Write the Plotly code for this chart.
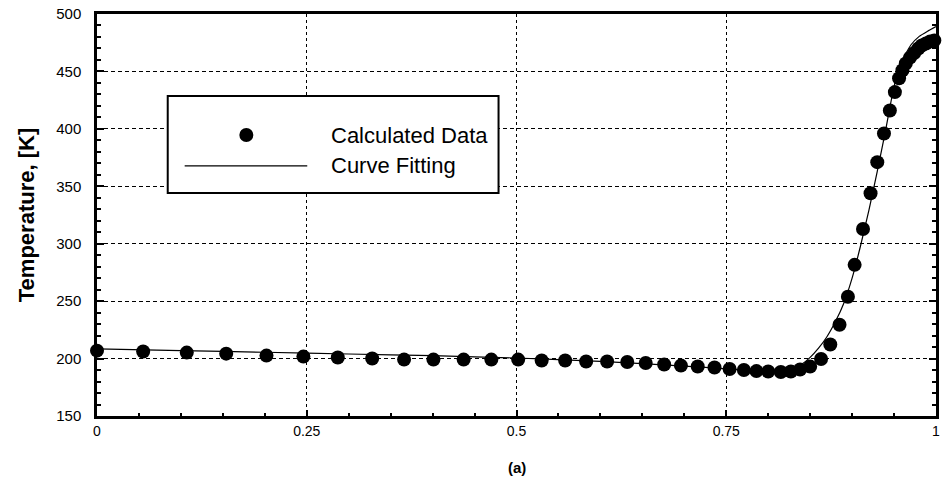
import plotly.graph_objects as go

# ---- data ----
calc_x = [0.000, 0.055, 0.107, 0.154, 0.202, 0.246, 0.287, 0.328, 0.366, 0.401,
          0.437, 0.470, 0.502, 0.530, 0.558, 0.583, 0.608, 0.632, 0.654, 0.676,
          0.696, 0.716, 0.736, 0.754, 0.771, 0.786, 0.800, 0.815, 0.827, 0.838,
          0.850, 0.863, 0.874, 0.885, 0.895, 0.903, 0.913, 0.922, 0.930, 0.938,
          0.945, 0.951, 0.956, 0.960, 0.964, 0.969, 0.974, 0.979, 0.983, 0.988,
          0.993, 0.998]
calc_T = [206.9, 206.1, 205.2, 204.3, 202.6, 201.7, 200.9, 200.0, 199.1, 199.1,
          199.1, 199.1, 199.1, 198.3, 198.3, 197.4, 197.4, 197.0, 196.1, 194.8,
          193.9, 193.1, 192.2, 190.9, 190.0, 189.1, 188.7, 188.3, 188.7, 190.5,
          193.0, 199.6, 212.2, 229.5, 253.8, 281.6, 312.8, 344.0, 371.0, 396.0,
          416.0, 432.0, 444.0, 451.0, 457.0, 462.0, 466.0, 470.0, 472.6, 474.3,
          476.0, 477.0]

fit_x = [0.0, 0.1, 0.2, 0.3, 0.4, 0.5, 0.6, 0.7, 0.75, 0.8, 0.82, 0.83, 0.84,
         0.85, 0.86, 0.87, 0.88, 0.89, 0.9, 0.91, 0.92, 0.93, 0.94, 0.95, 0.96,
         0.97, 0.98, 0.99, 1.0]
fit_T = [208.5, 207.0, 205.5, 204.0, 202.5, 200.5, 197.5, 193.5, 191.0, 189.5,
         190.0, 191.5, 195.0, 201.0, 209.0, 219.0, 232.0, 248.0, 270.0, 298.0,
         329.0, 363.0, 399.0, 437.0, 460.0, 473.0, 480.5, 485.0, 489.0]

x_tickvals = [0, 0.25, 0.5, 0.75, 1]
x_ticktext = ["0", "0.25", "0.5", "0.75", "1"]
y_tickvals = [150, 200, 250, 300, 350, 400, 450, 500]

legend_labels = ["Calculated Data", "Curve Fitting"]

FONT = "Liberation Sans, Arial, sans-serif"

fig = go.Figure()
fig.add_trace(go.Scatter(x=fit_x, y=fit_T, mode="lines",
                         line=dict(color="black", width=1.2, shape="spline", smoothing=0.4),
                         showlegend=False, cliponaxis=False))
fig.add_trace(go.Scatter(x=calc_x, y=calc_T, mode="markers",
                         marker=dict(color="black", size=14),
                         showlegend=False, cliponaxis=False))

fig.update_xaxes(range=[0, 1], tickvals=x_tickvals, ticktext=x_ticktext,
                 showgrid=True, gridcolor="black", gridwidth=1, griddash="3px,3px",
                 showline=True, linecolor="black", linewidth=2.5, mirror=True,
                 ticks="inside", ticklen=6, tickwidth=1.5, tickcolor="black",
                 minor=dict(dtick=0.05, ticks="inside", ticklen=3, tickcolor="black", showgrid=False),
                 zeroline=False, tickfont=dict(family=FONT, size=14, color="black"),
                 ticklabelstandoff=0)
fig.update_yaxes(range=[150, 500], tickvals=y_tickvals,
                 showgrid=True, gridcolor="black", gridwidth=1, griddash="4px,3px",
                 showline=True, linecolor="black", linewidth=2.5, mirror="ticks",
                 ticks="inside", ticklen=7, tickwidth=1.5, tickcolor="black",
                 minor=dict(dtick=10, ticks="inside", ticklen=4, tickcolor="black", showgrid=False),
                 zeroline=False, tickfont=dict(family=FONT, size=15, color="black"),
                 ticklabelstandoff=10,
                 title=dict(text="<b>Temperature, [K]</b>", font=dict(family=FONT, size=22, color="black"),
                            standoff=16))

# manual legend box
fig.add_shape(type="rect", xref="paper", yref="paper", x0=0.0843, x1=0.4786, y0=0.555, y1=0.796,
              line=dict(color="black", width=2), fillcolor="white", layer="above")
fig.add_shape(type="circle", xref="paper", yref="paper", xsizemode="pixel", ysizemode="pixel",
              xanchor=0.178, yanchor=0.699, x0=-7, x1=7, y0=-7, y1=7,
              fillcolor="black", line=dict(color="black", width=0), layer="above")
fig.add_shape(type="line", xref="paper", yref="paper", x0=0.1045, x1=0.2506, y0=0.622, y1=0.622,
              line=dict(color="black", width=1.2), layer="above")
fig.add_annotation(xref="paper", yref="paper", x=0.2767, y=0.699, text=legend_labels[0],
                   showarrow=False, xanchor="left", yanchor="middle",
                   font=dict(family=FONT, size=22, color="black"))
fig.add_annotation(xref="paper", yref="paper", x=0.2767, y=0.622, text=legend_labels[1],
                   showarrow=False, xanchor="left", yanchor="middle",
                   font=dict(family=FONT, size=22, color="black"))
# caption
fig.add_annotation(xref="paper", yref="paper", x=0.5, y=-0.127, text="<b>(a)</b>",
                   showarrow=False, xanchor="center", yanchor="middle",
                   font=dict(family=FONT, size=15, color="black"))

fig.update_layout(width=942, height=481, margin=dict(l=97, r=3, t=14, b=65),
                  paper_bgcolor="white", plot_bgcolor="white", showlegend=False)

fig.write_html("out.html")
